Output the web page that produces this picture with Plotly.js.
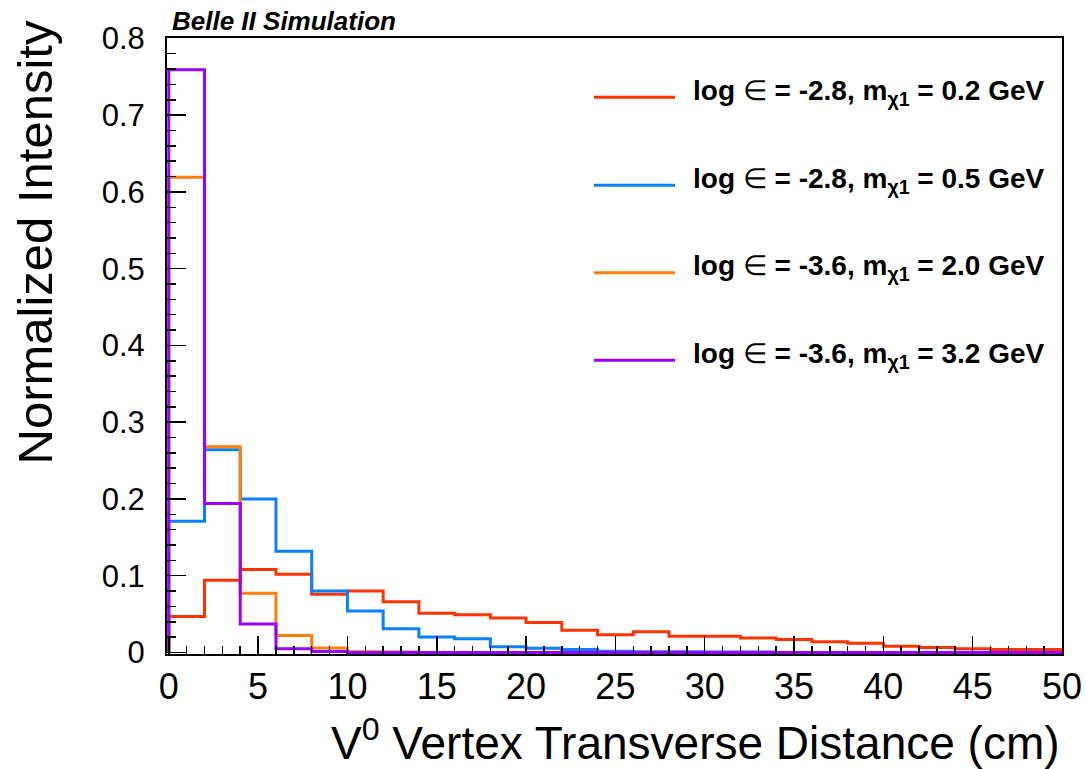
<!DOCTYPE html>
<html>
<head>
<meta charset="utf-8">
<script src="https://cdn.plot.ly/plotly-3.0.1.min.js"></script>
<style>
  html, body { margin: 0; padding: 0; background: #ffffff; }
  #chart { width: 1086px; height: 769px; }
</style>
</head>
<body>
<div id="chart"></div>
<script>
// Bin edges (cm) of the V0 vertex transverse distance histogram
const binEdges = [0, 2, 4, 6, 8, 10, 12, 14, 16, 18, 20, 22, 24, 26, 28, 30, 32, 34, 36, 38, 40, 42, 44, 46, 48, 50];

// Normalized intensity per bin (25 bins)
const red_m02 = [0.047, 0.094, 0.108, 0.102, 0.076, 0.080, 0.066, 0.051, 0.049, 0.045, 0.039, 0.029, 0.023, 0.027, 0.021, 0.021, 0.019, 0.017, 0.014, 0.012, 0.008, 0.0065, 0.005, 0.004, 0.004];
const blue_m05 = [0.171, 0.264, 0.200, 0.132, 0.080, 0.054, 0.031, 0.020, 0.018, 0.0075, 0.0056, 0.004, 0.0015, 0.001, 0.001, 0.0005, 0.0005, 0, 0, 0, 0, 0, 0, 0, 0];
const orange_m20 = [0.619, 0.268, 0.077, 0.022, 0.0058, 0.001, 0.0005, 0, 0, 0, 0, 0, 0, 0, 0, 0, 0, 0, 0, 0, 0, 0, 0, 0, 0];
const purple_m32 = [0.759, 0.194, 0.037, 0.0048, 0.0012, 0, 0, 0, 0, 0, 0, 0, 0, 0, 0, 0, 0, 0, 0, 0, 0, 0, 0, 0, 0];

const logEps = ['-2.8', '-2.8', '-3.6', '-3.6'];
const massGeV = ['0.2', '0.5', '2.0', '3.2'];
const seriesColors = ['#ff3300', '#0a80ff', '#ff7f0a', '#9900ff'];
const seriesValues = [red_m02, blue_m05, orange_m20, purple_m32];

const seriesLabels = logEps.map((e, i) => 'log ∈ = ' + e + ', m<sub>χ1</sub> = ' + massGeV[i] + ' GeV');
const legendText = logEps.map((e, i) =>
  '<b>log </b>∈<b> = ' + e + ', m<sub>χ1</sub> = ' + massGeV[i] + ' GeV</b>');

// Build a histogram outline (step) from bin edges and contents
function stepOutline(vals) {
  const x = [binEdges[0]], y = [0];
  for (let i = 0; i < vals.length; i++) { x.push(binEdges[i]); y.push(vals[i]); }
  x.push(binEdges[binEdges.length - 1]); y.push(vals[vals.length - 1]);
  return {x: x, y: y};
}

const traces = seriesValues.map((vals, i) => {
  const s = stepOutline(vals);
  return {
    type: 'scatter', mode: 'lines', x: s.x, y: s.y,
    line: {shape: 'hv', color: seriesColors[i], width: 3},
    name: seriesLabels[i], showlegend: false, hoverinfo: 'skip'
  };
});

const sans = '"Liberation Sans", Arial, Helvetica, sans-serif';

// Manual legend (long line samples, wide spacing as in the original)
const legendY = [0.904, 0.761, 0.619, 0.477];
const shapes = [], annotations = [];
legendY.forEach((yy, i) => {
  shapes.push({type: 'line', xref: 'paper', yref: 'paper', x0: 0.477, x1: 0.5676, y0: yy, y1: yy,
               line: {color: seriesColors[i], width: 3}});
  annotations.push({xref: 'paper', yref: 'paper', x: 0.586, y: yy + 0.008, xanchor: 'left', yanchor: 'middle',
                    showarrow: false, text: legendText[i],
                    font: {family: sans, size: 28, color: '#000'}});
});
annotations.push({xref: 'paper', yref: 'paper', x: 0.003, y: 1.0276, xanchor: 'left', yanchor: 'middle',
                  showarrow: false, text: '<b><i>Belle II Simulation</i></b>',
                  font: {family: sans, size: 26, color: '#000'}});
annotations.push({xref: 'paper', yref: 'paper', x: 1.0, y: -0.139, xanchor: 'right', yanchor: 'middle',
                  showarrow: false, text: 'V<sup>0</sup> Vertex Transverse Distance (cm)',
                  font: {family: sans, size: 46, color: '#000'}});
annotations.push({xref: 'paper', yref: 'paper', x: -0.148, y: 1.031, xanchor: 'center', yanchor: 'top',
                  textangle: -90, showarrow: false, text: 'Normalized Intensity',
                  font: {family: sans, size: 49, color: '#000'}});

const layout = {
  width: 1086, height: 769,
  margin: {l: 167, r: 24, t: 38, b: 115, pad: 0},
  paper_bgcolor: '#ffffff', plot_bgcolor: '#ffffff',
  showlegend: false,
  xaxis: {
    range: [-0.1, 50], dtick: 5, tick0: 0,
    ticks: 'inside', ticklen: 18, tickwidth: 1.5, tickcolor: '#000',
    minor: {dtick: 1, ticks: 'inside', ticklen: 8, tickwidth: 1.5, tickcolor: '#000', showgrid: false},
    showline: true, linewidth: 2, linecolor: '#000', mirror: true,
    showgrid: false, zeroline: false,
    tickfont: {family: sans, size: 36, color: '#000'},
    ticklabelstandoff: 0
  },
  yaxis: {
    range: [-0.002, 0.8005], dtick: 0.1, tick0: 0,
    ticks: 'inside', ticklen: 19, tickwidth: 1.5, tickcolor: '#000',
    minor: {dtick: 0.02, ticks: 'inside', ticklen: 9, tickwidth: 1.5, tickcolor: '#000', showgrid: false},
    showline: true, linewidth: 2, linecolor: '#000', mirror: true,
    showgrid: false, zeroline: false,
    tickfont: {family: sans, size: 31, color: '#000'},
    ticklabelstandoff: 14
  },
  shapes: shapes,
  annotations: annotations
};

Plotly.newPlot('chart', traces, layout, {staticPlot: true, displayModeBar: false});
</script>
</body>
</html>
